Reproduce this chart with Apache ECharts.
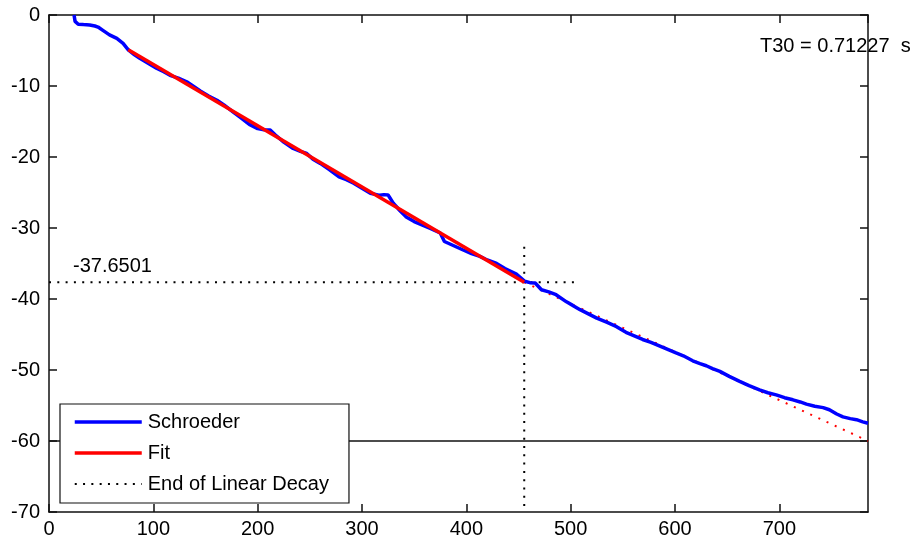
<!DOCTYPE html>
<html>
<head>
<meta charset="utf-8">
<script src="https://cdn.jsdelivr.net/npm/echarts@6/dist/echarts.min.js"></script>
<style>
html,body{margin:0;padding:0;background:#fff;}
#c{width:921px;height:543px;}
</style>
</head>
<body>
<div id="c"></div>
<script>
// ---- data ----
var schroederX = [24,25,28,33,39,44,47,52,58,65,71,76,82,87,95,103,110,116,124,132,138,145,153,161,168,176,184,192,200,206,212,217,225,234,241,247,253,260,269,278,285,292,300,308,317,321,325,330,336,342,350,358,366,375,379,388,397,405,413,420,429,437,448,456,461,466,472,479,486,496,502,509,517,525,535,544,553,561,569,577,585,593,601,608,617,624,630,636,643,652,662,671,681,689,697,705,713,720,726,734,742,748,755,761,768,774,780,785];
var schroederY = [0,-0.9,-1.3,-1.35,-1.4,-1.55,-1.7,-2.2,-2.8,-3.3,-4.0,-4.9,-5.6,-6.1,-6.8,-7.5,-8.0,-8.5,-8.9,-9.4,-10.0,-10.7,-11.4,-12.0,-12.7,-13.6,-14.5,-15.4,-16.0,-16.15,-16.2,-16.9,-17.9,-18.8,-19.2,-19.5,-20.3,-20.9,-21.8,-22.8,-23.2,-23.7,-24.4,-25.1,-25.4,-25.3,-25.35,-26.5,-27.5,-28.4,-29.1,-29.6,-30.1,-30.7,-31.9,-32.5,-33.1,-33.6,-34.0,-34.5,-35.0,-35.7,-36.5,-37.5,-37.7,-37.75,-38.7,-39.0,-39.4,-40.4,-40.9,-41.5,-42.1,-42.7,-43.3,-43.9,-44.7,-45.2,-45.7,-46.1,-46.6,-47.1,-47.6,-48.0,-48.7,-49.1,-49.4,-49.8,-50.2,-50.9,-51.6,-52.2,-52.8,-53.2,-53.5,-53.9,-54.2,-54.5,-54.8,-55.1,-55.3,-55.6,-56.2,-56.6,-56.85,-57.0,-57.3,-57.5];
var fitX = [76, 455.5];
var fitY = [-4.9, -37.6501];
var extX = [455.5, 785];
var extY = [-37.6501, -60];
var endDecayHX = [0, 505];
var endDecayHY = [-37.6501, -37.6501];
var endDecayVX = [455.5, 455.5];
var endDecayVY = [-32.65, -70];
var refLineX = [0, 785];
var refLineY = [-60, -60];
var xTicks = {min: 0, max: 785, step: 100};
var yTicks = {min: -70, max: 0, step: 10};
var endValueLabel = '-37.6501';
var t30Label = 'T30 = 0.71227  s';

function zip(a, b) { return a.map(function (v, i) { return [v, b[i]]; }); }

var FONT = '"Liberation Sans", Arial, Helvetica, sans-serif';
var AXC = '#111';

var chart = echarts.init(document.getElementById('c'), null, {renderer: 'canvas'});
var axisCommon = {
  type: 'value',
  axisLine: {show: true, onZero: false, lineStyle: {color: AXC, width: 1.5}},
  axisTick: {show: true, inside: true, length: 8, lineStyle: {color: AXC, width: 1.5}},
  splitLine: {show: false}
};
chart.setOption({
  animation: false,
  backgroundColor: '#fff',
  grid: {left: 49, right: 53, top: 15, bottom: 31, containLabel: false},
  xAxis: [
    Object.assign({}, axisCommon, {
      position: 'bottom', min: xTicks.min, max: xTicks.max, interval: xTicks.step,
      axisLabel: {show: true, margin: 7, color: '#000', fontSize: 20, fontFamily: FONT, showMaxLabel: false}
    }),
    Object.assign({}, axisCommon, {
      position: 'top', min: xTicks.min, max: xTicks.max, interval: xTicks.step,
      axisLabel: {show: false}
    })
  ],
  yAxis: [
    Object.assign({}, axisCommon, {
      position: 'left', min: yTicks.min, max: yTicks.max, interval: yTicks.step,
      axisLabel: {show: true, margin: 9, color: '#000', fontSize: 20, fontFamily: FONT}
    }),
    Object.assign({}, axisCommon, {
      position: 'right', min: yTicks.min, max: yTicks.max, interval: yTicks.step,
      axisLabel: {show: false}
    })
  ],
  legend: {
    show: true,
    orient: 'vertical',
    left: 60, top: 404,
    data: [
      {name: 'Schroeder', lineStyle: {width: 3.5}},
      {name: 'Fit', lineStyle: {width: 3.5}},
      {name: 'End of Linear Decay', lineStyle: {width: 2}}
    ],
    backgroundColor: '#fff',
    borderColor: '#111', borderWidth: 1.2, borderRadius: 0,
    padding: [8, 20, 9, 13],
    itemWidth: 67, itemHeight: 20, itemGap: 11,
    itemStyle: {opacity: 0},
    textStyle: {color: '#000', fontSize: 20, fontFamily: FONT, padding: [0, 0, 0, 1]},
    selectedMode: false
  },
  series: [
    {name: '-60 dB', type: 'line', data: zip(refLineX, refLineY), symbol: 'none', silent: true,
     lineStyle: {color: '#111', width: 1.5}, z: 1},
    {name: 'End of Linear Decay', type: 'line', data: zip(endDecayHX, endDecayHY), symbol: 'none',
     lineStyle: {color: '#000', width: 2, type: [2, 6.3]}, itemStyle: {color: '#000'}, z: 3},
    {name: 'End of Linear Decay', type: 'line', data: zip(endDecayVX, endDecayVY), symbol: 'none',
     lineStyle: {color: '#000', width: 2, type: [2, 6.3]}, itemStyle: {color: '#000'}, z: 3},
    {name: 'Fit ext', type: 'line', data: zip(extX, extY), symbol: 'none',
     lineStyle: {color: '#ff0000', width: 2, type: [2, 7]}, z: 2},
    {name: 'Schroeder', type: 'line', data: zip(schroederX, schroederY), symbol: 'none',
     lineStyle: {color: '#0000ff', width: 3.5}, itemStyle: {color: '#0000ff'}, z: 4},
    {name: 'Fit', type: 'line', data: zip(fitX, fitY), symbol: 'none',
     lineStyle: {color: '#ff0000', width: 3.5}, itemStyle: {color: '#ff0000'}, z: 5}
  ],
  graphic: [
    {type: 'text', left: 73, top: 256, z: 10,
     style: {text: endValueLabel, fill: '#000', fontSize: 20, fontFamily: FONT}},
    {type: 'text', left: 760, top: 36, z: 10,
     style: {text: t30Label, fill: '#000', fontSize: 20, fontFamily: FONT}}
  ]
});
</script>
</body>
</html>
